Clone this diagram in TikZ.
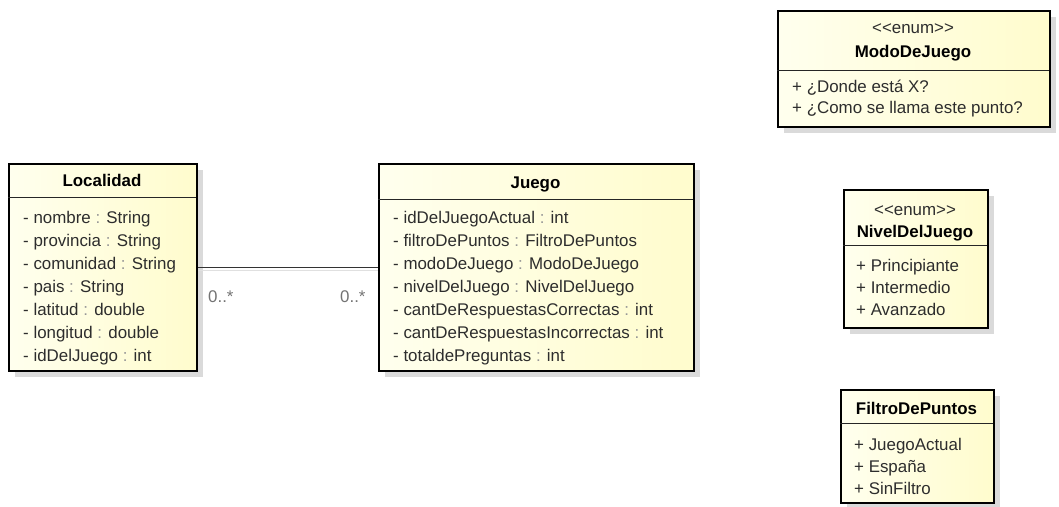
\documentclass[tikz,border=0pt]{standalone}
\usepackage{fontspec}
\setmainfont{Liberation Sans}
\usetikzlibrary{shadows}
\definecolor{ink}{RGB}{45,45,45}
\definecolor{colon}{RGB}{150,150,150}
\definecolor{boxl}{RGB}{255,255,238}
\definecolor{boxr}{RGB}{255,252,205}
\definecolor{shade}{RGB}{218,218,218}
\newcommand{\cl}{\textcolor{colon}{:}}
\newcommand{\enumtag}{<\kern0pt<enum>\kern0pt>}
\tikzset{
  classbox/.style={draw=black, line width=2.4pt, left color=boxl, right color=boxr,
    anchor=north west, inner sep=0pt,
    drop shadow={shadow xshift=6pt, shadow yshift=-6pt, fill=shade, opacity=1}},
  sepline/.style={draw=black!85, line width=1pt},
  member/.style={anchor=base west, inner sep=0pt, text=ink,
    font=\fontsize{16.9}{20}\selectfont},
  title/.style={anchor=base, inner sep=0pt, text=black,
    font=\fontsize{16.9}{20}\selectfont\bfseries},
  stereo/.style={anchor=base, inner sep=0pt, text=ink,
    font=\fontsize{16.9}{20}\selectfont},
  mult/.style={anchor=base west, inner sep=0pt, text=black!55,
    font=\fontsize{16.9}{20}\selectfont},
  assoc/.style={draw=black!80, line width=1.2pt}
}
\begin{document}
\begin{tikzpicture}[x=1pt,y=-1pt]
\useasboundingbox (0,0) rectangle (1059,506);

% ---------- Localidad ----------
\node[classbox, minimum width=188pt, minimum height=207pt] (loc) at (8,163) {};
\draw[sepline] (8,197) -- (196,197);
\node[title] (locT) at (102,186) {Localidad};
\node[member] (loc1) at (23,223) {- nombre \cl{} String};
\node[member] (loc2) at (23,246) {- provincia \cl{} String};
\node[member] (loc3) at (23,269) {- comunidad \cl{} String};
\node[member] (loc4) at (23,292) {- pais \cl{} String};
\node[member] (loc5) at (23,315) {- latitud \cl{} double};
\node[member] (loc6) at (23,338) {- longitud \cl{} double};
\node[member] (loc7) at (23,361) {- idDelJuego \cl{} int};

% ---------- Juego ----------
\node[classbox, minimum width=315pt, minimum height=207pt] (jue) at (378,163) {};
\draw[sepline] (378,199) -- (693,199);
\node[title] (jueT) at (535.5,188) {Juego};
\node[member] (jue1) at (393,223) {- idDelJuegoActual \cl{} int};
\node[member] (jue2) at (393,246) {- filtroDePuntos \cl{} FiltroDePuntos};
\node[member] (jue3) at (393,269) {- modoDeJuego \cl{} ModoDeJuego};
\node[member] (jue4) at (393,292) {- nivelDelJuego \cl{} NivelDelJuego};
\node[member] (jue5) at (393,315) {- cantDeRespuestasCorrectas \cl{} int};
\node[member] (jue6) at (393,338) {- cantDeRespuestasIncorrectas \cl{} int};
\node[member] (jue7) at (393,361) {- totaldePreguntas \cl{} int};

% ---------- association (with its soft shadow) ----------
\draw[draw=black!12, line width=1.5pt] ([yshift=-3pt]loc.east) -- ([yshift=-3pt]jue.west);
\draw[assoc] (loc.east) -- (jue.west);
\node[mult] (mA) at (208,302) {0..*};
\node[mult] (mB) at (340,302) {0..*};

% ---------- ModoDeJuego ----------
\node[classbox, minimum width=272pt, minimum height=116pt] (modo) at (777,10) {};
\draw[sepline] (777,70) -- (1049,70);
\node[stereo] (modoS) at (913,33) {\enumtag};
\node[title] (modoT) at (913,57) {ModoDeJuego};
\node[member] (modo1) at (792,92) {+ ¿Donde está X?};
\node[member] (modo2) at (792,113) {+ ¿Como se llama este punto?};

% ---------- NivelDelJuego ----------
\node[classbox, minimum width=144pt, minimum height=138pt] (niv) at (843,189) {};
\draw[sepline] (843,245) -- (987,245);
\node[stereo] (nivS) at (915,215) {\enumtag};
\node[title] (nivT) at (915,237) {NivelDelJuego};
\node[member] (niv1) at (856,271) {+ Principiante};
\node[member] (niv2) at (856,293) {+ Intermedio};
\node[member] (niv3) at (856,315) {+ Avanzado};

% ---------- FiltroDePuntos ----------
\node[classbox, minimum width=153pt, minimum height=113pt] (fil) at (840,389) {};
\draw[sepline] (840,423) -- (993,423);
\node[title] (filT) at (916.5,414) {FiltroDePuntos};
\node[member] (fil1) at (854,450) {+ JuegoActual};
\node[member] (fil2) at (854,472) {+ España};
\node[member] (fil3) at (854,494) {+ SinFiltro};
\end{tikzpicture}
\end{document}
